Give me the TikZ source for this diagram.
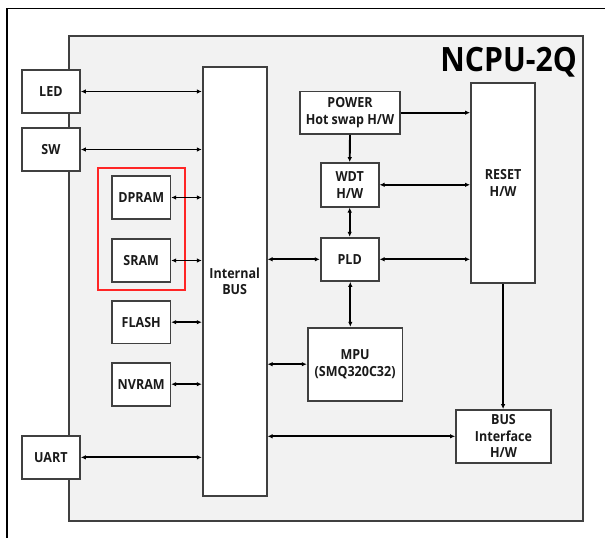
\documentclass[tikz,border=0pt]{standalone}
\usepackage{fontspec}
\setmainfont{Open Sans}[FakeStretch=0.9]
\usetikzlibrary{arrows.meta}
\definecolor{panel}{HTML}{F2F2F2}
\definecolor{edge}{HTML}{404040}
\definecolor{txt}{HTML}{1A1A1A}
\begin{document}
\begin{tikzpicture}[x=1pt,y=-1pt,
  blk/.style={draw=edge, line width=1.7pt, fill=white, align=center, inner sep=0pt,
    font=\bfseries\fontsize{13.9}{16.5}\selectfont, text=txt},
  conn/.style={line width=1.9pt, black, {Latex[length=5pt,width=4.5pt]}-{Latex[length=5pt,width=4.5pt]}},
  oneway/.style={line width=1.9pt, black, -{Latex[length=5pt,width=4.5pt]}}]
\useasboundingbox (0,0) rectangle (605,538);
% outer frame (partially visible)
\draw[line width=1.5pt, black] (7,538) -- (7,8.5) -- (605,8.5);
% gray panel
\draw[draw=edge, line width=1.7pt, fill=panel] (69.3,36) rectangle (583,521);
\node[anchor=base east, inner sep=0pt, font=\bfseries\fontsize{33.5}{36}\selectfont, text=black] (title) at (577,71) {NCPU-2Q};
% red group
\draw[red!85!white, line width=1.2pt] (98,168) rectangle (185,290);
% left column
\node[blk, minimum width=58.3pt, minimum height=43pt] (led) at (50.85,91.5) {LED};
\node[blk, minimum width=58.3pt, minimum height=43pt] (sw) at (50.85,149.5) {SW};
\node[blk, minimum width=58.3pt, minimum height=43.3pt] (uart) at (50.85,457.35) {UART};
\node[blk, minimum width=58.3pt, minimum height=43pt] (dpram) at (141.2,197.5) {DPRAM};
\node[blk, minimum width=58.3pt, minimum height=43pt] (sram) at (141.2,260.5) {SRAM};
\node[blk, minimum width=58.3pt, minimum height=42.3pt] (flash) at (141.2,322.2) {FLASH};
\node[blk, minimum width=58.3pt, minimum height=43pt] (nvram) at (141.2,384.2) {NVRAM};
% bus
\node[blk, minimum width=64pt, minimum height=428.4pt] (bus) at (234.7,281.5) {Internal\\BUS};
% right side
\node[blk, minimum width=99.4pt, minimum height=42.7pt] (power) at (350,112.7) {POWER\\Hot swap H/W};
\node[blk, minimum width=58pt, minimum height=43.7pt] (wdt) at (349.7,184.8) {WDT\\H/W};
\node[blk, minimum width=58pt, minimum height=43.3pt] (pld) at (349.7,259.3) {PLD};
\node[blk, minimum width=64.4pt, minimum height=200.6pt] (reset) at (503.1,183) {RESET\\H/W};
\node[blk, minimum width=94.8pt, minimum height=73pt] (mpu) at (355.1,364.2) {MPU\\(SMQ320C32)};
\node[blk, minimum width=95pt, minimum height=52.7pt] (busif) at (503.5,436.3) {BUS\\Interface\\H/W};
% connectors
\draw[conn] (led.east) -- (led.east -| bus.west);
\draw[conn] (sw.east) -- (sw.east -| bus.west);
\draw[conn] (dpram.east) -- (dpram.east -| bus.west);
\draw[conn] (sram.east) -- (sram.east -| bus.west);
\draw[conn] (flash.east) -- (flash.east -| bus.west);
\draw[conn] (nvram.east) -- (nvram.east -| bus.west);
\draw[conn] (uart.east) -- (uart.east -| bus.west);
\draw[conn] (pld.west -| bus.east) -- (pld.west);
\draw[conn] (mpu.west -| bus.east) -- (mpu.west);
\draw[conn] (busif.west -| bus.east) -- (busif.west);
\draw[oneway] (power.east) -- (power.east -| reset.west);
\draw[oneway] (power.south) -- (wdt.north);
\draw[conn] (wdt.east) -- (wdt.east -| reset.west);
\draw[conn] (wdt.south) -- (pld.north);
\draw[conn] (pld.east) -- (pld.east -| reset.west);
\draw[conn] ([xshift=0.6pt]pld.south) -- ([xshift=0.6pt]pld.south |- mpu.north);
\draw[oneway] (reset.south) -- (reset.south |- busif.north);
\end{tikzpicture}
\end{document}
